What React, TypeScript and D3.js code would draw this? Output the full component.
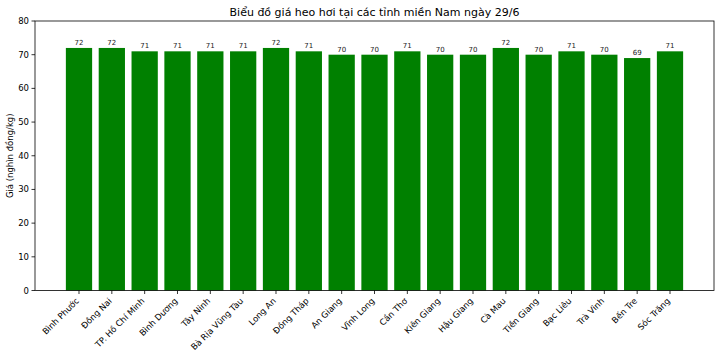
import React from "react";
import * as d3 from "d3";

const provinces = ["Bình Phước", "Đồng Nai", "TP. Hồ Chí Minh", "Bình Dương", "Tây Ninh", "Bà Rịa Vũng Tàu", "Long An", "Đồng Tháp", "An Giang", "Vĩnh Long", "Cần Thơ", "Kiên Giang", "Hậu Giang", "Cà Mau", "Tiền Giang", "Bạc Liêu", "Trà Vinh", "Bến Tre", "Sóc Trăng"];
const prices = [72, 72, 71, 71, 71, 71, 72, 71, 70, 70, 71, 70, 70, 72, 70, 71, 70, 69, 71];
const yTicks = [0, 10, 20, 30, 40, 50, 60, 70, 80];
const title = "Biểu đồ giá heo hơi tại các tỉnh miền Nam ngày 29/6";
const yLabel = "Giá (nghìn đồng/kg)";

const W = 720, H = 357;
const L = 35, R = 714, T = 21, B = 290.5;
const font = "DejaVu Sans, sans-serif";

export default function App() {
  const n = provinces.length;
  const pad = (n - 1 + 0.8) * 0.05;
  const x = d3.scaleLinear().domain([-0.4 - pad, n - 1 + 0.4 + pad]).range([L, R]);
  const y = d3.scaleLinear().domain([0, 80]).range([B, T]);
  const bw = x(0.8) - x(0);
  return (
    <svg width={W} height={H} style={{ position: "absolute", left: 0, top: 0, background: "#fff" }} fontFamily={font}>
      <rect x={0} y={0} width={W} height={H} fill="#fff" />
      <text x={(L + R) / 2} y={16} textAnchor="middle" fontSize={11} fill="#000">{title}</text>
      {prices.map((v, i) => (
        <g key={i}>
          <rect x={x(i) - bw / 2} y={y(v)} width={bw} height={B - y(v)} fill="#008000" />
          <text x={x(i)} y={y(v) - 3} textAnchor="middle" fontSize={7} fill="#222">{v}</text>
        </g>
      ))}
      <rect x={L} y={T} width={R - L} height={B - T} fill="none" stroke="#000" strokeWidth={0.8} />
      {yTicks.map((t) => (
        <g key={t}>
          <line x1={L - 3.5} x2={L} y1={y(t)} y2={y(t)} stroke="#000" strokeWidth={0.8} />
          <text x={L - 6} y={y(t) + 3} textAnchor="end" fontSize={8.5} fill="#000">{t}</text>
        </g>
      ))}
      {provinces.map((p, i) => (
        <g key={p}>
          <line x1={x(i)} x2={x(i)} y1={B} y2={B + 3.5} stroke="#000" strokeWidth={0.8} />
          <text transform={`translate(${x(i) - 4},${B + 6.5}) rotate(-45)`} textAnchor="end" dominantBaseline="hanging" fontSize={8.5} fill="#000">{p}</text>
        </g>
      ))}
      <text transform={`translate(13,${(T + B) / 2}) rotate(-90)`} textAnchor="middle" fontSize={8.5} fill="#000">{yLabel}</text>
    </svg>
  );
}
